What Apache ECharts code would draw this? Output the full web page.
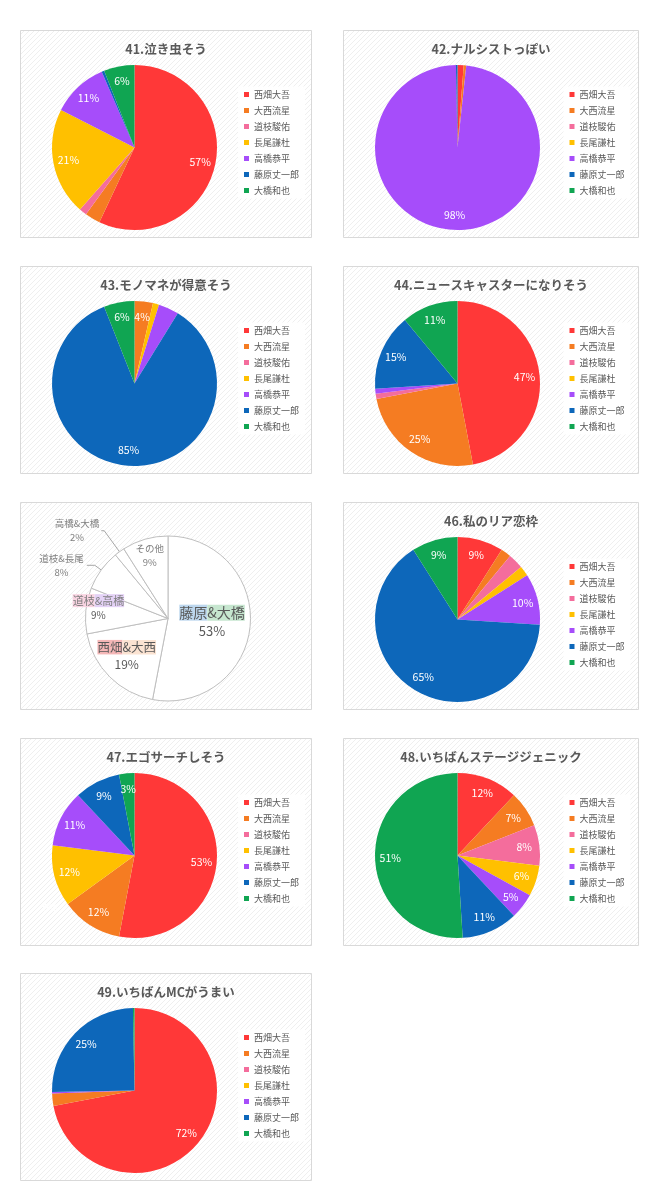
<!DOCTYPE html>
<html><head><meta charset="utf-8">
<script src="https://cdn.jsdelivr.net/npm/echarts@6/dist/echarts.min.js"></script>
<style>html,body{margin:0;padding:0;background:#fff}#c{width:663px;height:1200px}</style>
</head><body><div id="c"></div>
<script>
// ---- data ----
const members = ['西畑大吾','大西流星','道枝駿佑','長尾謙杜','高橋恭平','藤原丈一郎','大橋和也'];
const memberColors = ['#FF3838','#F57C22','#F46D9C','#FFC000','#A64DFA','#0D67BA','#10A552'];
const titles = ['41.泣き虫そう','42.ナルシストっぽい','43.モノマネが得意そう','44.ニュースキャスターになりそう','','46.私のリア恋枠','47.エゴサーチしそう','48.いちばんステージジェニック','49.いちばんMCがうまい'];
const q41 = [57, 3, 1.5, 21, 11, 0.5, 6];
const q42 = [1.2, 0.5, 0, 0, 98, 0.3, 0];
const q43 = [0, 3.6, 0, 1.2, 4, 85.2, 6];
const q44 = [47, 25, 1, 0, 1, 15, 11];
const q46 = [9, 2, 3, 2, 10, 65, 9];
const q47 = [53, 12, 0, 12, 11, 9, 3];
const q48 = [12, 7, 8, 6, 5, 11, 51];
const q49 = [72, 2.4, 0, 0, 0.3, 25, 0.3];
const pairNames = ['藤原&大橋','西畑&大西','道枝&高橋','道枝&長尾','高橋&大橋','その他'];
const q45 = [53, 19, 9, 8, 2, 9];

// which slices carry a percentage label
const labelMasks = {
  q41:[1,0,0,1,1,0,1], q42:[0,0,0,0,1,0,0], q43:[0,1,0,0,0,1,1], q44:[1,1,0,0,0,1,1],
  q46:[1,0,0,0,1,1,1], q47:[1,1,1,1,1,1,1], q48:[1,1,1,1,1,1,1], q49:[1,0,0,0,0,1,0]
};

// ---- layout / style ----
const FONT = '"Noto Sans CJK JP","Noto Sans",sans-serif';
const colX = [20.5, 343.5], colW = [291, 295];
const rowY = [30.5, 266.5, 502.5, 738.5, 973.5], panelH = 207;
const R = 82.5;

function panel(i){ const c=i%2, r=Math.floor(i/2); return {x:colX[c], y:rowY[r], w:colW[c], h:panelH, c}; }

// hatch pattern
const pc = document.createElement('canvas'); pc.width = 5; pc.height = 5;
const g = pc.getContext('2d');
g.fillStyle = '#ffffff'; g.fillRect(0,0,5,5);
g.strokeStyle = '#EFEFEF'; g.lineWidth = 1;
g.beginPath(); g.moveTo(-1,6); g.lineTo(6,-1); g.stroke();
g.beginPath(); g.moveTo(-1,1); g.lineTo(1,-1); g.stroke();
g.beginPath(); g.moveTo(4,6); g.lineTo(6,4); g.stroke();

function radialLayout(cx, cy, factors){
  return function(p){
    const f = Array.isArray(factors) ? factors[p.dataIndex] : factors;
    if (f == null || f === 1) return {};
    const lr = p.labelRect;
    const lx = lr.x + lr.width/2, ly = lr.y + lr.height/2;
    return { x: cx + (lx-cx)*f, y: cy + (ly-cy)*f };
  };
}

const graphics = [], titleOpts = [], legends = [], series = [];
const charts = [['q41',q41],['q42',q42],['q43',q43],['q44',q44],null,['q46',q46],['q47',q47],['q48',q48],['q49',q49]];

for (let i=0;i<9;i++){
  const p = panel(i);
  graphics.push({type:'rect', z:-10, silent:true, shape:{x:p.x, y:p.y, width:p.w, height:p.h},
    style:{fill:{image:pc, repeat:'repeat'}, stroke:'#D9D9D9', lineWidth:1}});
  if (titles[i]) titleOpts.push({text:titles[i], left:p.x + p.w/2, top:p.y+12, textAlign:'center', padding:0,
    textStyle:{fontSize:12.5, fontWeight:'bold', color:'#595959', fontFamily:FONT}});
  if (charts[i]){
    const cx = p.x + 114, cy = p.y + 117;
    const key = charts[i][0], vals = charts[i][1], mask = labelMasks[key];
    legends.push({orient:'vertical', left:p.x + (p.c ? 220 : 217.5), top:p.y+56, data:members, icon:'rect',
      itemWidth:5, itemHeight:5, itemGap:4, selectedMode:false, backgroundColor:'#fff', padding:[2,6,2,6],
      textStyle:{fontSize:9, color:'#595959', lineHeight:12, fontFamily:FONT}});
    series.push({type:'pie', center:[cx,cy], radius:R, startAngle:90, clockwise:true, silent:true,
      avoidLabelOverlap:false, animation:false, z:2,
      itemStyle:{borderWidth:0},
      label:{show:true, position:'inside', color:'#fff', fontSize:10.5, fontFamily:FONT,
        formatter:(q)=>Math.round(q.percent)+'%'},
      labelLine:{show:false},
      labelLayout: radialLayout(cx, cy, members.map((m,k)=> (key==='q47' && vals[k]===0) ? null : 1.52)),
      data: members.map((n,k)=>{
        const d = {name:n, value:vals[k], itemStyle:{color:memberColors[k]}, label:{show:!!mask[k]}};
        if (key==='q47' && vals[k]===0){
          d.label = {show:true, position:'outside', color:'#fff', fontSize:10.5};
          d.labelLine = {show:false, length:6, length2:0};
        }
        return d;
      })
    });
  } else {
    // pair chart (no title / legend)
    const cx = p.x + 147.5, cy = p.y + 116;
    const rich = {
      b1:{backgroundColor:'#BDD7EE', color:'#595959', fontSize:14, align:'center', padding:[1,0], fontFamily:FONT},
      g1:{backgroundColor:'#C6E6CF', color:'#595959', fontSize:14, align:'center', padding:[1,0], fontFamily:FONT},
      r1:{backgroundColor:'#F5B7B7', color:'#595959', fontSize:12.5, align:'center', padding:[1,0], fontFamily:FONT},
      o1:{backgroundColor:'#FBE3D2', color:'#595959', fontSize:12.5, align:'center', padding:[1,0], fontFamily:FONT},
      k1:{backgroundColor:'#F8D3E1', color:'#7F7F7F', fontSize:11, align:'center', padding:[1,0], fontFamily:FONT},
      v1:{backgroundColor:'#E4D2F6', color:'#7F7F7F', fontSize:11, align:'center', padding:[1,0], fontFamily:FONT},
      pb:{color:'#595959', fontSize:13, align:'center', lineHeight:20, fontFamily:FONT},
      pm:{color:'#595959', fontSize:12, align:'center', lineHeight:20, fontFamily:FONT},
      ps:{color:'#595959', fontSize:10, align:'center', lineHeight:17, fontFamily:FONT},
      n:{color:'#7F7F7F', fontSize:9.5, align:'center', lineHeight:14, fontFamily:FONT},
      pn:{color:'#7F7F7F', fontSize:9.5, align:'center', lineHeight:14, fontFamily:FONT}
    };
    const fmts = [
      (q)=>'{b1|藤原}{g1|&大橋}\n{pb|'+Math.round(q.percent)+'%}',
      (q)=>'{r1|西畑}{o1|&大西}\n{pm|'+Math.round(q.percent)+'%}',
      (q)=>'{k1|道枝}{v1|&高橋}\n{ps|'+Math.round(q.percent)+'%}',
      (q)=>'{n|'+q.name+'}\n{pn|'+Math.round(q.percent)+'%}',
      (q)=>'{n|'+q.name+'}\n{pn|'+Math.round(q.percent)+'%}',
      (q)=>'{n|'+q.name+'}\n{pn|'+Math.round(q.percent)+'%}'
    ];
    series.push({type:'pie', center:[cx,cy], radius:R, startAngle:90, clockwise:true, silent:true,
      avoidLabelOverlap:false, animation:false, z:2,
      itemStyle:{color:'#fff', borderColor:'#BFBFBF', borderWidth:1},
      label:{show:true, position:'inside', rich:rich,
        formatter:(q)=>fmts[q.dataIndex](q)},
      labelLine:{show:false, lineStyle:{color:'#A6A6A6', width:1}},
      labelLayout: radialLayout(cx, cy, [1, 1.32, 1.58, null, null, 1.48]),
      data: pairNames.map((n,k)=>{
        const d = {name:n, value:q45[k]};
        if (k===3){ d.label={position:'outside', distanceToLabelLine:3}; d.labelLine={show:true, length:8, length2:8}; }
        if (k===4){ d.label={position:'outside', distanceToLabelLine:2}; d.labelLine={show:true, length:26, length2:3}; }
        return d;
      })
    });
  }
}

const chart = echarts.init(document.getElementById('c'), null, {renderer:'canvas'});
chart.setOption({
  backgroundColor:'#ffffff',
  animation:false,
  graphic: graphics,
  title: titleOpts,
  legend: legends,
  series: series
});
</script>
</body></html>
